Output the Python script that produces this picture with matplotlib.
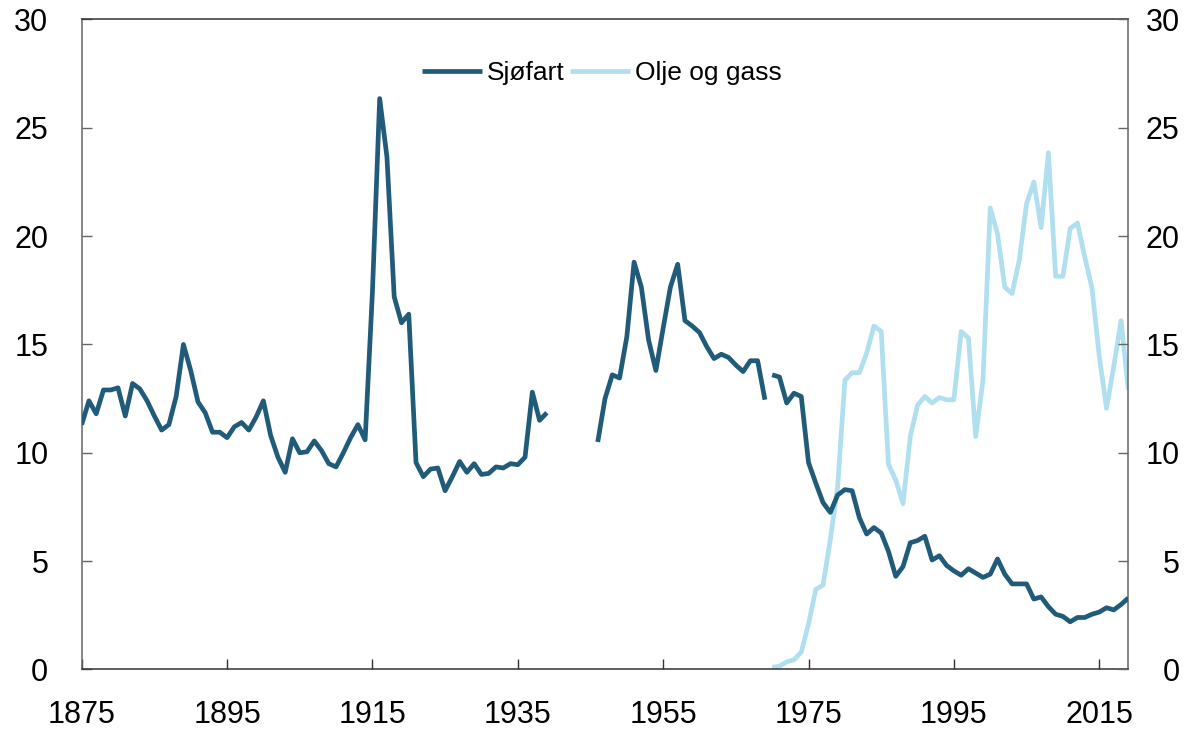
import matplotlib
matplotlib.use("Agg")
import matplotlib.pyplot as plt
import numpy as np

plt.rcParams['font.family'] = ['Liberation Sans', 'DejaVu Sans']

# Sjøfart, tre biter (brudd 1940-45 og mellom 1969/1970)
aar_a = np.arange(1875, 1940)
sjofart_a = [11.3, 12.4, 11.8, 12.9, 12.9, 13.0, 11.7, 13.2, 12.95, 12.4,
             11.7, 11.05, 11.3, 12.6, 15.0, 13.8, 12.35, 11.85, 10.95, 10.95,
             10.7, 11.2, 11.4, 11.05, 11.65, 12.4, 10.8, 9.8, 9.1, 10.65,
             10.0, 10.05, 10.55, 10.1, 9.5, 9.35, 10.0, 10.7, 11.3, 10.6,
             17.4, 26.35, 23.65, 17.2, 16.0, 16.4, 9.55, 8.9, 9.25, 9.3,
             8.25, 8.9, 9.6, 9.1, 9.5, 9.0, 9.05, 9.35, 9.3, 9.5,
             9.45, 9.8, 12.8, 11.5, 11.85]

aar_b = np.arange(1946, 1970)
sjofart_b = [10.5, 12.5, 13.6, 13.45, 15.35, 18.8, 17.65, 15.2, 13.8, 15.75,
             17.65, 18.7, 16.1, 15.85, 15.55, 14.9, 14.35, 14.55, 14.4, 14.05,
             13.75, 14.25, 14.25, 12.45]

aar_c = np.arange(1970, 2020)
sjofart_c = [13.6, 13.5, 12.3, 12.75, 12.6, 9.55, 8.6, 7.7, 7.25, 8.05,
             8.3, 8.25, 7.0, 6.25, 6.55, 6.3, 5.45, 4.3, 4.75, 5.85,
             5.95, 6.15, 5.05, 5.25, 4.8, 4.55, 4.35, 4.65, 4.45, 4.25,
             4.4, 5.1, 4.4, 3.95, 3.95, 3.95, 3.25, 3.35, 2.9, 2.55,
             2.45, 2.2, 2.4, 2.4, 2.55, 2.65, 2.85, 2.75, 3.0, 3.3]

olje_gass = [0.1, 0.15, 0.35, 0.45, 0.8, 2.1, 3.7, 3.9, 6.0, 8.4,
             13.35, 13.7, 13.7, 14.6, 15.85, 15.6, 9.45, 8.75, 7.65, 10.75,
             12.2, 12.6, 12.3, 12.55, 12.45, 12.45, 15.6, 15.3, 10.75, 13.35,
             21.3, 20.1, 17.65, 17.35, 18.9, 21.5, 22.5, 20.4, 23.85, 18.15,
             18.15, 20.35, 20.6, 19.05, 17.6, 14.45, 12.05, 14.0, 16.1, 12.9]

xticks = list(range(1875, 2016, 20))
yticks = [0, 5, 10, 15, 20, 25, 30]

mork = '#215b7a'
lys = '#b0dff0'

fig = plt.figure(figsize=(12.01, 7.32), dpi=100)
ax = fig.add_axes([0.068, 0.0854, 0.8715, 0.888])

ax.plot(aar_c, olje_gass, color=lys, lw=3.4, solid_capstyle='butt', zorder=2, label='Olje og gass')
ax.plot(aar_a, sjofart_a, color=mork, lw=3.4, solid_capstyle='butt', zorder=3, label='Sjøfart')
ax.plot(aar_b, sjofart_b, color=mork, lw=3.4, solid_capstyle='butt', zorder=3)
ax.plot(aar_c, sjofart_c, color=mork, lw=3.4, solid_capstyle='butt', zorder=3)

ax.set_xlim(1875, 2019)
ax.set_ylim(0, 30)
ax.set_xticks(xticks)
ax.set_yticks(yticks)
ax.tick_params(axis='x', direction='in', length=7.5, width=1, color='#333333',
               labelsize=22, pad=22)
ax.tick_params(axis='y', direction='in', length=7.5, width=1, color='#666666',
               labelsize=22, pad=24)

for s in ['left', 'right']:
    ax.spines[s].set_color('#666666')
for s in ['top', 'bottom']:
    ax.spines[s].set_color('#333333')
for s in ax.spines.values():
    s.set_linewidth(1.1)

# høyre akse, labels høyrejustert
ax2 = ax.twinx()
ax2.set_ylim(0, 30)
ax2.set_yticks(yticks)
ax2.set_yticklabels([str(v) for v in yticks], ha='right')
ax2.tick_params(axis='y', direction='in', length=7.5, width=1, color='#666666',
                labelsize=22, pad=37)
for s in ax2.spines.values():
    s.set_visible(False)

h, l = ax.get_legend_handles_labels()
ax.legend(h[::-1], l[::-1], loc='center', bbox_to_anchor=(0.497, 0.918), ncol=2,
          frameon=False, fontsize=19, handlelength=2.27, handletextpad=0.19,
          columnspacing=0.22)

fig.savefig('out.png', dpi=100)
